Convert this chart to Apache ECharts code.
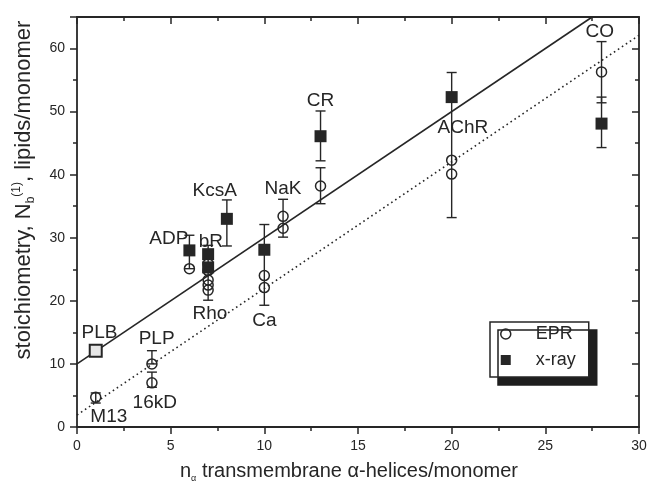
<!DOCTYPE html>
<html>
<head>
<meta charset="utf-8">
<script src="https://cdn.jsdelivr.net/npm/echarts@6/dist/echarts.min.js"></script>
<style>
html, body { margin: 0; padding: 0; background: #fff; }
#main { width: 650px; height: 491px; }
</style>
</head>
<body>
<div id="main"></div>
<script>
// EPR stoichiometry points [helices, lipids]
const eprPoints = [[1, 4.7], [4, 10], [4, 7], [6, 25.1], [7, 25.9], [7, 24.8], [7, 23.3], [7, 22.5], [7, 21.7],
                   [10, 24], [10, 22.1], [11, 33.4], [11, 31.5], [13, 38.2], [20, 42.3], [20, 40.1], [28, 56.3]]
// x-ray points
const xrayPoints = [[6, 28], [7, 27.4], [7, 25.3], [8, 33], [10, 28.1], [13, 46.1], [20, 52.3], [28, 48.1]]
const plbPoint = [1, 12.1]
// error bars [x, low, high]
const errorBars = [[1, 3.8, 5.4], [4, 10, 12.1], [4, 6.3, 8.7], [6, 25.1, 30.4], [7, 20.1, 28.8], [8, 28.7, 36],
                   [10, 19.3, 32.1], [11, 30.1, 36.1], [13, 35.4, 41.1], [13, 42.2, 50.1], [20, 33.2, 56.2],
                   [28, 51.4, 61.1], [28, 44.3, 52.3]]
// fitted lines
const fitXray = [[0, 10], [27.5, 65]]
const fitEpr = [[0, 1.9], [30, 62.1]]
// protein labels
const labelNames = ['PLB', 'M13', 'PLP', '16kD', 'ADP', 'bR', 'Rho', 'KcsA', 'NaK', 'Ca', 'CR', 'AChR', 'CO']
const labelPos = [[1.2, 15], [1.7, 1.6], [4.25, 14], [4.15, 3.9], [4.9, 29.9], [7.15, 29.3], [7.1, 18],
                  [7.35, 37.5], [11, 37.7], [10, 16.9], [13, 51.7], [20.6, 47.5], [27.9, 62.6]]

const ink = '#262626'
const font = 'Liberation Sans, Arial, sans-serif'
const chart = echarts.init(document.getElementById('main'))

const frameAxis = {
    min: 0,
    axisLine: { show: true, onZero: false, lineStyle: { color: ink, width: 1.8 } },
    splitLine: { show: false },
    axisLabel: { show: false },
    axisTick: { show: true, inside: true, length: 7, lineStyle: { color: ink, width: 1.5 } },
    minorTick: { show: true, splitNumber: 2, length: 4, lineStyle: { color: ink, width: 1.5 } }
}

chart.setOption({
    animation: false,
    backgroundColor: '#fff',
    grid: { left: 77, right: 11, top: 17, bottom: 64 },
    legend: {
        orient: 'vertical',
        left: 490, top: 322,
        padding: [3, 13, 8, 10],
        itemGap: 8,
        itemWidth: 10, itemHeight: 10,
        backgroundColor: '#fff',
        borderColor: ink, borderWidth: 1.5, borderRadius: 0,
        shadowColor: '#1e1e1e', shadowBlur: 0, shadowOffsetX: 8, shadowOffsetY: 8,
        textStyle: { fontFamily: font, fontSize: 18, color: ink, padding: [0, 0, 0, 20] },
        data: [
            { name: 'EPR', icon: 'circle', itemStyle: { color: 'rgba(0,0,0,0)', borderColor: ink, borderWidth: 1.5 } },
            { name: 'x-ray', icon: 'rect', itemStyle: { color: ink, borderWidth: 0 } }
        ]
    },
    xAxis: [
        Object.assign({}, frameAxis, {
            type: 'value', position: 'bottom', max: 30, interval: 5,
            axisTick: { show: true, inside: false, length: 7, lineStyle: { color: ink, width: 1.5 } },
            axisLabel: { show: true, color: ink, fontFamily: font, fontSize: 14, margin: 12 },
            name: '{n|n}{s|α} transmembrane α-helices/monomer',
            nameLocation: 'middle', nameGap: 32,
            nameTextStyle: {
                color: ink, fontFamily: font, fontSize: 20, padding: [0, 18, 0, 0],
                rich: {
                    n: { fontFamily: font, fontSize: 20, color: ink, lineHeight: 24 },
                    s: { fontFamily: font, fontSize: 9, color: ink, lineHeight: 24, verticalAlign: 'bottom' }
                }
            }
        }),
        Object.assign({}, frameAxis, { type: 'value', position: 'top', max: 30, interval: 5 })
    ],
    yAxis: [
        Object.assign({}, frameAxis, {
            type: 'value', position: 'left', max: 65, interval: 10,
            axisTick: { show: true, inside: false, length: 7, lineStyle: { color: ink, width: 1.5 } },
            axisLabel: { show: true, color: ink, fontFamily: font, fontSize: 14, margin: 12, showMaxLabel: false },
            name: 'stoichiometry, {b|N}{sub|b}{sup|(1)}, lipids/monomer',
            nameLocation: 'middle', nameGap: 40,
            nameTextStyle: {
                color: ink, fontFamily: font, fontSize: 22, padding: [0, 0, 0, 64],
                rich: {
                    b: { fontFamily: font, fontSize: 22, color: ink, lineHeight: 26 },
                    sub: { fontFamily: font, fontSize: 12, color: ink, lineHeight: 26, verticalAlign: 'bottom' },
                    sup: { fontFamily: font, fontSize: 12, color: ink, lineHeight: 26, verticalAlign: 'top' }
                }
            }
        }),
        Object.assign({}, frameAxis, { type: 'value', position: 'right', max: 65, interval: 10 })
    ],
    series: [
        {
            type: 'line', data: fitXray, symbol: 'none', silent: true, z: 1,
            lineStyle: { color: ink, width: 1.6 }
        },
        {
            type: 'line', data: fitEpr, symbol: 'none', silent: true, z: 1,
            lineStyle: { color: ink, width: 1.6, type: [1.6, 3.2] }
        },
        {
            type: 'custom', z: 2, silent: true,
            data: errorBars,
            renderItem: (params, api) => {
                const x = api.value(0)
                const lo = api.coord([x, api.value(1)])
                const hi = api.coord([x, api.value(2)])
                const w = 5
                const style = { stroke: ink, lineWidth: 1.4 }
                return {
                    type: 'group',
                    children: [
                        { type: 'line', shape: { x1: lo[0], y1: lo[1], x2: hi[0], y2: hi[1] }, style },
                        { type: 'line', shape: { x1: lo[0] - w, y1: lo[1], x2: lo[0] + w, y2: lo[1] }, style },
                        { type: 'line', shape: { x1: hi[0] - w, y1: hi[1], x2: hi[0] + w, y2: hi[1] }, style }
                    ]
                }
            }
        },
        {
            name: 'x-ray', type: 'scatter', z: 3,
            symbol: 'rect', symbolSize: 12,
            itemStyle: { color: ink, opacity: 1 },
            data: [{ value: plbPoint, itemStyle: { color: '#e6e6e6', borderColor: ink, borderWidth: 2 } }].concat(xrayPoints)
        },
        {
            name: 'EPR', type: 'scatter', z: 4,
            symbol: 'circle', symbolSize: 10,
            itemStyle: { color: 'rgba(0,0,0,0)', borderColor: ink, borderWidth: 1.5, opacity: 1 },
            data: eprPoints
        },
        {
            type: 'custom', z: 5, silent: true,
            data: labelPos.map((p, i) => [p[0], p[1], i]),
            renderItem: (params, api) => {
                const p = api.coord([api.value(0), api.value(1)])
                return {
                    type: 'text', x: p[0], y: p[1],
                    style: {
                        text: labelNames[api.value(2)],
                        fill: ink, fontFamily: font, fontSize: 19,
                        align: 'center', verticalAlign: 'middle'
                    }
                }
            }
        }
    ]
})
</script>
</body>
</html>
